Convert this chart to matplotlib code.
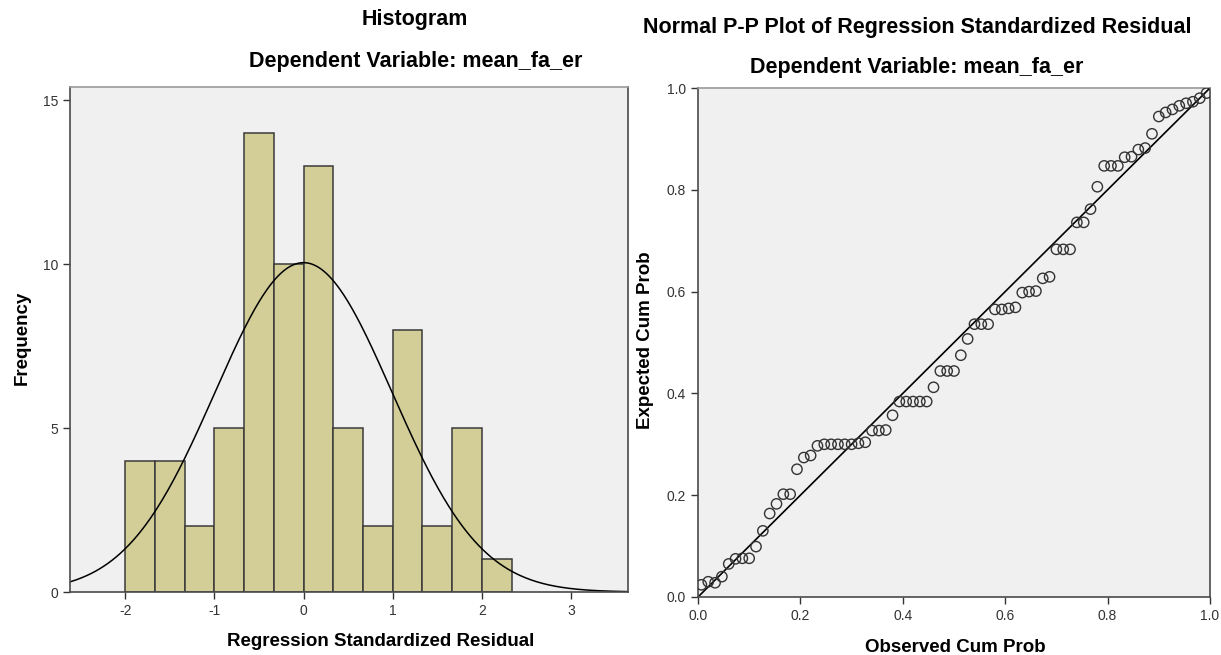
""" Regression residual diagnostics: histogram + normal P-P plot """
import numpy as np
import matplotlib.pyplot as plt

W, H = 1221, 655

# histogram of standardized residuals (bin width 1/3, starting at -2)
bin_start = -2.0
bin_width = 1 / 3
counts = [4, 4, 2, 5, 14, 10, 13, 5, 2, 8, 2, 5, 1]
res_mean = 0.0
res_std = 0.993
n_obs = 75

# P-P plot: expected cum prob, one per case in rank order
expected = [0.024, 0.030, 0.028, 0.040, 0.065, 0.075, 0.076, 0.076, 0.099, 0.130,
            0.164, 0.183, 0.202, 0.202, 0.251, 0.274, 0.278, 0.297, 0.300, 0.300,
            0.300, 0.300, 0.300, 0.302, 0.304, 0.327, 0.327, 0.328, 0.357, 0.384,
            0.384, 0.384, 0.384, 0.384, 0.412, 0.444, 0.444, 0.444, 0.475, 0.507,
            0.536, 0.536, 0.536, 0.565, 0.565, 0.567, 0.569, 0.598, 0.600, 0.601,
            0.626, 0.629, 0.683, 0.683, 0.683, 0.736, 0.736, 0.762, 0.806, 0.847,
            0.847, 0.847, 0.864, 0.865, 0.879, 0.882, 0.910, 0.944, 0.952, 0.958,
            0.965, 0.970, 0.973, 0.980, 0.990]
# observed cum prob = plotting position of each rank
observed = (np.arange(1, len(expected) + 1) - 0.5) / len(expected)

plt.rcParams['font.family'] = ['Liberation Sans', 'DejaVu Sans']
plt.rcParams['axes.unicode_minus'] = False

fig = plt.figure(figsize=(W / 100, H / 100), dpi=100)
fig.patch.set_facecolor('white')

def px_axes(x0, y0, x1, y1):
    return fig.add_axes([x0 / W, 1 - y1 / H, (x1 - x0) / W, (y1 - y0) / H])

def style(ax):
    ax.set_facecolor('#f0f0f0')
    for s in ['left', 'bottom', 'right']:
        ax.spines[s].set_color('#4a4a4a')
        ax.spines[s].set_linewidth(1.2)
    ax.spines['top'].set_color('#9a9a9a')
    ax.spines['top'].set_linewidth(1.2)
    ax.tick_params(direction='out', length=5, width=1, color='#333333',
                   labelsize=10, labelcolor='#333333')

TITLE = 15.5
LABEL = 13.5

# ---- Histogram ----
ax1 = px_axes(70, 87, 628, 592)
style(ax1)
edges = bin_start + bin_width * np.arange(len(counts))
ax1.bar(edges, counts, width=bin_width, align='edge', color='#d3ce98',
        edgecolor='#3a3a3a', linewidth=1.1)
xs = np.linspace(-2.62, 3.64, 400)
curve = n_obs * bin_width * np.exp(-0.5 * ((xs - res_mean) / res_std) ** 2) / (res_std * np.sqrt(2 * np.pi))
ax1.plot(xs, curve, color='black', linewidth=1.1)
ax1.set_xlim(-2.62, 3.64)
ax1.set_ylim(0, 15.4)
ax1.set_xticks([-2, -1, 0, 1, 2, 3])
ax1.set_yticks([0, 5, 10, 15])

fig.text(415 / W, 1 - 20 / H, 'Histogram', ha='center', va='center', fontsize=TITLE, fontweight='bold')
fig.text(416 / W, 1 - 62 / H, 'Dependent Variable: mean_fa_er', ha='center', va='center',
         fontsize=TITLE, fontweight='bold')
fig.text(381 / W, 1 - 642 / H, 'Regression Standardized Residual', ha='center', va='center',
         fontsize=LABEL, fontweight='bold')
fig.text(22 / W, 1 - 338 / H, 'Frequency', ha='center', va='center', rotation=90,
         fontsize=LABEL, fontweight='bold')

# ---- Normal P-P plot ----
ax2 = px_axes(698, 88, 1210, 597)
style(ax2)
ax2.plot([0, 1], [0, 1], color='black', linewidth=1.2)
ax2.scatter(observed, expected, s=55, facecolors='none', edgecolors='#333333', linewidths=1.0, zorder=3)
ax2.set_xlim(0, 1)
ax2.set_ylim(0, 1)
ticks = [0.0, 0.2, 0.4, 0.6, 0.8, 1.0]
ax2.set_xticks(ticks)
ax2.set_yticks(ticks)
ax2.set_xticklabels(['%.1f' % t for t in ticks])
ax2.set_yticklabels(['%.1f' % t for t in ticks])

fig.text(917 / W, 1 - 28 / H, 'Normal P-P Plot of Regression Standardized Residual', ha='center',
         va='center', fontsize=TITLE, fontweight='bold')
fig.text(917 / W, 1 - 68 / H, 'Dependent Variable: mean_fa_er', ha='center', va='center',
         fontsize=TITLE, fontweight='bold')
fig.text(955 / W, 1 - 647 / H, 'Observed Cum Prob', ha='center', va='center',
         fontsize=LABEL, fontweight='bold')
fig.text(646 / W, 1 - 340 / H, 'Expected Cum Prob', ha='center', va='center', rotation=90,
         fontsize=LABEL, fontweight='bold')

fig.savefig('out.png', dpi=100)
